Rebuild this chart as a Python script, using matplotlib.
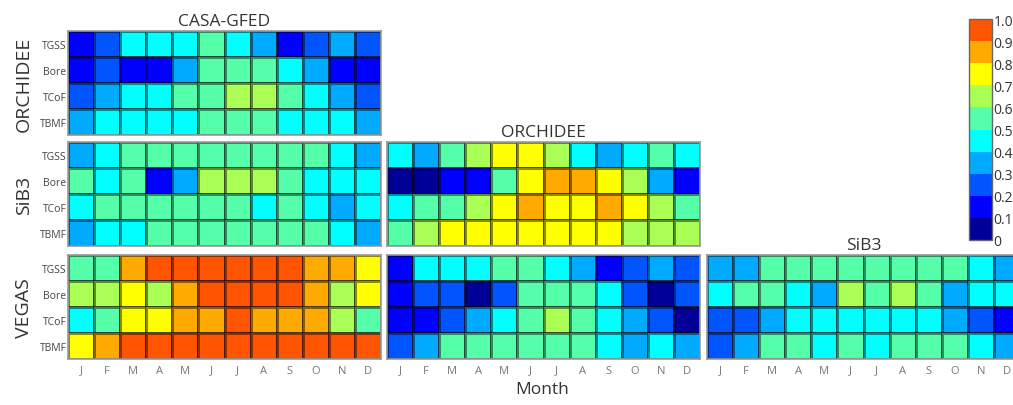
import numpy as np
import matplotlib
matplotlib.use("Agg")
import matplotlib.pyplot as plt
from matplotlib.colors import ListedColormap, BoundaryNorm

plt.rcParams['font.family'] = ['Open Sans', 'DejaVu Sans']

months = ['J', 'F', 'M', 'A', 'M', 'J', 'J', 'A', 'S', 'O', 'N', 'D']
biomes = ['TGSS', 'Bore', 'TCoF', 'TBMF']
row_models = ['ORCHIDEE', 'SiB3', 'VEGAS']
col_models = ['CASA-GFED', 'ORCHIDEE', 'SiB3']

# valores (centro de cada clase de color)
orchidee_vs_casa = [
    [0.15, 0.25, 0.45, 0.45, 0.45, 0.55, 0.45, 0.35, 0.15, 0.25, 0.35, 0.25],
    [0.15, 0.25, 0.15, 0.15, 0.35, 0.55, 0.55, 0.55, 0.45, 0.35, 0.15, 0.15],
    [0.25, 0.35, 0.45, 0.45, 0.55, 0.55, 0.65, 0.65, 0.55, 0.45, 0.35, 0.25],
    [0.35, 0.45, 0.45, 0.45, 0.45, 0.55, 0.55, 0.55, 0.45, 0.45, 0.45, 0.35],
]
sib3_vs_casa = [
    [0.35, 0.45, 0.55, 0.55, 0.55, 0.55, 0.55, 0.55, 0.55, 0.55, 0.45, 0.35],
    [0.55, 0.45, 0.55, 0.15, 0.35, 0.65, 0.65, 0.65, 0.55, 0.45, 0.45, 0.45],
    [0.45, 0.55, 0.55, 0.55, 0.55, 0.55, 0.55, 0.45, 0.55, 0.45, 0.35, 0.45],
    [0.35, 0.45, 0.45, 0.55, 0.55, 0.55, 0.55, 0.55, 0.55, 0.55, 0.45, 0.35],
]
vegas_vs_casa = [
    [0.55, 0.55, 0.85, 0.95, 0.95, 0.95, 0.95, 0.95, 0.95, 0.85, 0.85, 0.75],
    [0.65, 0.65, 0.75, 0.65, 0.85, 0.95, 0.95, 0.95, 0.95, 0.85, 0.65, 0.75],
    [0.45, 0.55, 0.75, 0.75, 0.85, 0.85, 0.95, 0.85, 0.85, 0.85, 0.65, 0.55],
    [0.75, 0.85, 0.95, 0.95, 0.95, 0.95, 0.95, 0.95, 0.95, 0.95, 0.95, 0.95],
]
sib3_vs_orchidee = [
    [0.45, 0.35, 0.55, 0.65, 0.75, 0.75, 0.65, 0.45, 0.35, 0.45, 0.55, 0.45],
    [0.05, 0.05, 0.15, 0.15, 0.55, 0.75, 0.85, 0.85, 0.75, 0.65, 0.35, 0.15],
    [0.45, 0.55, 0.55, 0.65, 0.75, 0.85, 0.75, 0.75, 0.85, 0.75, 0.65, 0.55],
    [0.55, 0.65, 0.75, 0.75, 0.75, 0.75, 0.75, 0.75, 0.75, 0.65, 0.65, 0.65],
]
vegas_vs_orchidee = [
    [0.15, 0.45, 0.45, 0.45, 0.55, 0.55, 0.45, 0.35, 0.15, 0.25, 0.35, 0.25],
    [0.15, 0.25, 0.25, 0.05, 0.25, 0.55, 0.55, 0.55, 0.45, 0.25, 0.05, 0.25],
    [0.15, 0.15, 0.25, 0.35, 0.45, 0.55, 0.65, 0.55, 0.45, 0.35, 0.25, 0.05],
    [0.25, 0.35, 0.55, 0.55, 0.55, 0.55, 0.55, 0.55, 0.45, 0.35, 0.45, 0.35],
]
vegas_vs_sib3 = [
    [0.35, 0.35, 0.55, 0.55, 0.55, 0.55, 0.55, 0.55, 0.55, 0.55, 0.45, 0.35],
    [0.45, 0.55, 0.55, 0.45, 0.35, 0.65, 0.55, 0.65, 0.55, 0.35, 0.45, 0.45],
    [0.25, 0.25, 0.35, 0.45, 0.45, 0.45, 0.45, 0.45, 0.45, 0.35, 0.25, 0.15],
    [0.25, 0.35, 0.55, 0.55, 0.45, 0.55, 0.45, 0.55, 0.55, 0.55, 0.45, 0.35],
]

# (fila, columna) -> datos
paneles = {
    (0, 0): orchidee_vs_casa,
    (1, 0): sib3_vs_casa,
    (2, 0): vegas_vs_casa,
    (1, 1): sib3_vs_orchidee,
    (2, 1): vegas_vs_orchidee,
    (2, 2): vegas_vs_sib3,
}

colores = ['#000099', '#0000ff', '#0055ff', '#00aaff', '#00ffff',
           '#55ffaa', '#aaff55', '#ffff00', '#ffaa00', '#ff5500']
niveles = np.linspace(0, 1, 11)
cmap = ListedColormap(colores)
norm = BoundaryNorm(niveles, cmap.N)

W, H = 1013, 406
fig = plt.figure(figsize=(W / 100, H / 100), dpi=100)

col_x = [68, 387, 707]
row_y = [32, 143, 256]
ancho, alto = 313, 104
gris = '#444444'


def px_axes(x, y, w, h):
    return fig.add_axes([x / W, 1 - (y + h) / H, w / W, h / H])


mesh = None
for (fila, col), datos in paneles.items():
    ax = px_axes(col_x[col], row_y[fila], ancho, alto)
    mesh = ax.pcolormesh(np.array(datos), cmap=cmap, norm=norm,
                         edgecolors=(0, 0, 0, 0.45), linewidth=0.9)
    ax.set_xlim(0, 12)
    ax.set_ylim(4, 0)
    for s in ax.spines.values():
        s.set_color('#999999')
        s.set_linewidth(1.2)
    ax.tick_params(length=0)
    if col == 0:
        ax.set_yticks(np.arange(4) + 0.5)
        ax.set_yticklabels(biomes, fontsize=7.5, color=gris)
        ax.tick_params(axis='y', pad=1)
        ax.set_ylabel(row_models[fila], fontsize=14, color='#333333', labelpad=5)
    else:
        ax.set_yticks([])
    if fila == 2:
        ax.set_xticks(np.arange(12) + 0.5)
        ax.set_xticklabels(months, fontsize=8, color='#777777')
        ax.tick_params(axis='x', pad=4)
    else:
        ax.set_xticks([])
    if fila == col:
        ax.set_title(col_models[col], fontsize=12.5, color='#333333', pad=4)

fig.text(542 / W, 1 - 390 / H, 'Month', fontsize=12.5, color='#333333',
         ha='center', va='center')

cax = px_axes(969, 20, 23, 221)
cb = fig.colorbar(mesh, cax=cax, ticks=niveles)
cb.set_ticklabels(['0', '0.1', '0.2', '0.3', '0.4', '0.5', '0.6', '0.7', '0.8', '0.9', '1.0'])
cb.ax.tick_params(length=0, labelsize=10, colors='#333333', pad=1)
cb.outline.set_edgecolor('#666666')
cb.outline.set_linewidth(1)

fig.savefig('out.png', dpi=100)
